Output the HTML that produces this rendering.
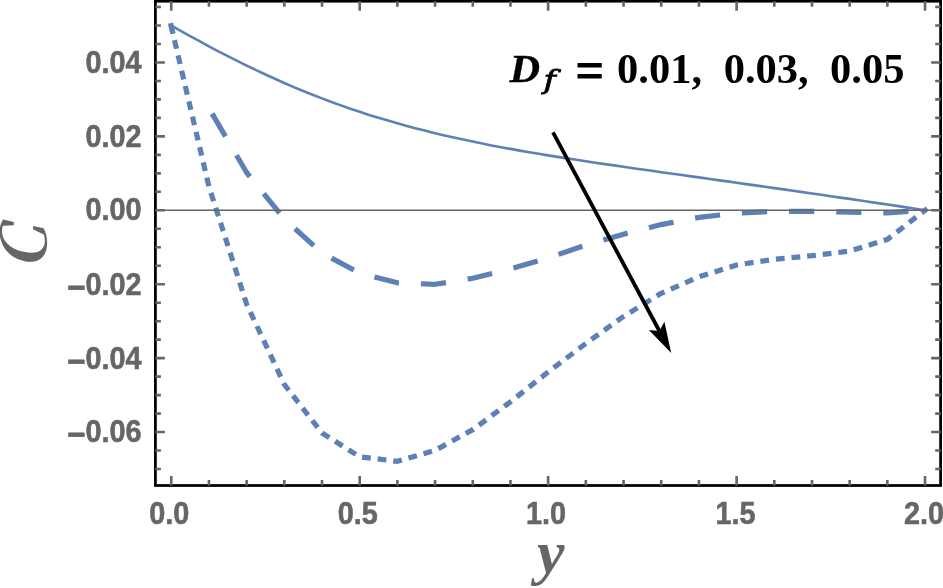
<!DOCTYPE html><html><head><meta charset="utf-8"><title>plot</title><style>html,body{margin:0;padding:0;background:#fff;overflow:hidden}svg{display:block}text{white-space:pre}</style></head><body>
<svg width="943" height="588" viewBox="0 0 943 588">
<rect width="943" height="588" fill="#fff"/>
<polyline points="171.4,25.6 180.7,30.9 190.1,36.1 199.5,41.2 208.9,46.3 218.4,51.3 227.8,56.2 237.2,60.9 246.6,65.6 256.1,70.1 265.5,74.5 274.9,78.8 284.3,83.0 293.7,87.1 303.2,91.0 312.6,94.8 322.0,98.4 331.4,102.0 340.9,105.4 350.3,108.7 359.7,111.8 369.1,114.9 378.5,117.8 388.0,120.6 397.4,123.3 406.8,125.9 416.2,128.4 425.7,130.8 435.1,133.2 444.5,135.4 453.9,137.5 463.3,139.6 472.8,141.6 482.2,143.5 491.6,145.4 501.0,147.2 510.5,148.9 519.9,150.6 529.3,152.2 538.7,153.8 548.1,155.4 557.6,156.9 567.0,158.4 576.4,159.8 585.8,161.3 595.3,162.7 604.7,164.1 614.1,165.4 623.5,166.8 633.0,168.2 642.4,169.5 651.8,170.8 661.2,172.2 670.6,173.5 680.1,174.8 689.5,176.1 698.9,177.4 708.3,178.8 717.8,180.1 727.2,181.4 736.6,182.7 746.0,184.1 755.4,185.4 764.9,186.7 774.3,188.1 783.7,189.4 793.1,190.8 802.6,192.1 812.0,193.5 821.4,194.8 830.8,196.2 840.2,197.6 849.7,198.9 859.1,200.3 868.5,201.7 877.9,203.1 887.4,204.5 896.8,205.9 906.2,207.4 915.6,208.8 925.0,210.3" fill="none" stroke="#5E81B5" stroke-width="2.6" stroke-linejoin="round"/>
<polyline points="212.7,114.6 246.6,172.5 284.3,219.0 322.0,253.0 359.7,273.2 397.4,282.8 435.1,284.3 472.8,278.3 510.5,268.9 548.1,258.0 585.8,245.0 623.5,234.2 661.2,224.6 698.9,217.4 736.6,213.2 774.3,211.4 812.0,211.3 849.7,212.2 887.4,212.9 925.0,210.3" fill="none" stroke="#5E81B5" stroke-width="5.2" stroke-dasharray="25.2 21.95" stroke-linejoin="round"/>
<polyline points="171.1,25.7 208.9,186.5 246.6,304.0 284.3,384.5 322.0,433.0 359.7,456.8 397.4,461.3 435.1,450.4 472.8,429.6 510.5,401.8 548.1,372.0 585.8,343.5 623.5,316.5 661.2,293.3 698.9,276.8 736.6,265.0 774.3,259.3 812.0,255.7 849.7,251.1 887.4,239.4 925.0,210.3" fill="none" stroke="#5E81B5" stroke-width="5.2" stroke-dasharray="8.8 6.9" stroke-dashoffset="0.85" stroke-linejoin="round"/>
<line x1="170.49" y1="23.07" x2="172.98" y2="33.78" stroke="#5E81B5" stroke-width="5.2"/>
<line x1="924.0" y1="211.06" x2="927.3" y2="208.55" stroke="#5E81B5" stroke-width="5.2"/>
<line x1="212.1" y1="113.6" x2="213.7" y2="116.3" stroke="#5E81B5" stroke-width="5.2"/>
<line x1="155.4" y1="210.3" x2="940.7" y2="210.3" stroke="#666666" stroke-width="1.4"/>
<rect x="155.4" y="1.2" width="785.2" height="484.3" fill="none" stroke="#000" stroke-width="2.75"/>
<path d="M171.25 485.5V476.0M171.25 1.2V10.7M208.94 485.5V479.9M208.94 1.2V6.8M246.63 485.5V479.9M246.63 1.2V6.8M284.32 485.5V479.9M284.32 1.2V6.8M322.01 485.5V479.9M322.01 1.2V6.8M359.70 485.5V476.0M359.70 1.2V10.7M397.39 485.5V479.9M397.39 1.2V6.8M435.08 485.5V479.9M435.08 1.2V6.8M472.77 485.5V479.9M472.77 1.2V6.8M510.46 485.5V479.9M510.46 1.2V6.8M548.15 485.5V476.0M548.15 1.2V10.7M585.84 485.5V479.9M585.84 1.2V6.8M623.53 485.5V479.9M623.53 1.2V6.8M661.22 485.5V479.9M661.22 1.2V6.8M698.91 485.5V479.9M698.91 1.2V6.8M736.60 485.5V476.0M736.60 1.2V10.7M774.29 485.5V479.9M774.29 1.2V6.8M811.98 485.5V479.9M811.98 1.2V6.8M849.67 485.5V479.9M849.67 1.2V6.8M887.36 485.5V479.9M887.36 1.2V6.8M925.05 485.5V476.0M925.05 1.2V10.7M155.4 469.02H160.9M940.7 469.02H935.2M155.4 450.54H160.9M940.7 450.54H935.2M155.4 432.06H164.9M940.7 432.06H931.2M155.4 413.58H160.9M940.7 413.58H935.2M155.4 395.10H160.9M940.7 395.10H935.2M155.4 376.62H160.9M940.7 376.62H935.2M155.4 358.14H164.9M940.7 358.14H931.2M155.4 339.66H160.9M940.7 339.66H935.2M155.4 321.18H160.9M940.7 321.18H935.2M155.4 302.70H160.9M940.7 302.70H935.2M155.4 284.22H164.9M940.7 284.22H931.2M155.4 265.74H160.9M940.7 265.74H935.2M155.4 247.26H160.9M940.7 247.26H935.2M155.4 228.78H160.9M940.7 228.78H935.2M155.4 210.30H164.9M940.7 210.30H931.2M155.4 191.82H160.9M940.7 191.82H935.2M155.4 173.34H160.9M940.7 173.34H935.2M155.4 154.86H160.9M940.7 154.86H935.2M155.4 136.38H164.9M940.7 136.38H931.2M155.4 117.90H160.9M940.7 117.90H935.2M155.4 99.42H160.9M940.7 99.42H935.2M155.4 80.94H160.9M940.7 80.94H935.2M155.4 62.46H164.9M940.7 62.46H931.2M155.4 43.98H160.9M940.7 43.98H935.2M155.4 25.50H160.9M940.7 25.50H935.2M155.4 7.02H160.9M940.7 7.02H935.2" stroke="#666666" stroke-width="2.6" fill="none"/>
<line x1="553.0" y1="132.3" x2="659.4" y2="331.0" stroke="#000" stroke-width="3.8"/>
<polygon points="671.2,353.0 648.9,330.0 659.4,331.0 664.4,321.7" fill="#000"/>
<text transform="translate(141.6 72.9) scale(0.915 1)" font-family="Liberation Sans, Arial, Helvetica, sans-serif" font-weight="bold" font-size="31.5" fill="#666666" stroke="#666666" stroke-width="0.6" stroke-linejoin="round" text-anchor="end">0.04</text>
<text transform="translate(141.6 146.9) scale(0.915 1)" font-family="Liberation Sans, Arial, Helvetica, sans-serif" font-weight="bold" font-size="31.5" fill="#666666" stroke="#666666" stroke-width="0.6" stroke-linejoin="round" text-anchor="end">0.02</text>
<text transform="translate(141.6 219.9) scale(0.915 1)" font-family="Liberation Sans, Arial, Helvetica, sans-serif" font-weight="bold" font-size="31.5" fill="#666666" stroke="#666666" stroke-width="0.6" stroke-linejoin="round" text-anchor="end">0.00</text>
<text transform="translate(141.6 294.9) scale(0.915 1)" font-family="Liberation Sans, Arial, Helvetica, sans-serif" font-weight="bold" font-size="31.5" fill="#666666" stroke="#666666" stroke-width="0.6" stroke-linejoin="round" text-anchor="end"><tspan font-size="34.4" dy="3.7">−</tspan><tspan dy="-3.7">0.02</tspan></text>
<text transform="translate(141.6 369.0) scale(0.915 1)" font-family="Liberation Sans, Arial, Helvetica, sans-serif" font-weight="bold" font-size="31.5" fill="#666666" stroke="#666666" stroke-width="0.6" stroke-linejoin="round" text-anchor="end"><tspan font-size="34.4" dy="3.7">−</tspan><tspan dy="-3.7">0.04</tspan></text>
<text transform="translate(141.6 442.0) scale(0.915 1)" font-family="Liberation Sans, Arial, Helvetica, sans-serif" font-weight="bold" font-size="31.5" fill="#666666" stroke="#666666" stroke-width="0.6" stroke-linejoin="round" text-anchor="end"><tspan font-size="34.4" dy="3.7">−</tspan><tspan dy="-3.7">0.06</tspan></text>
<text transform="translate(169.2 524.0) scale(0.915 1)" font-family="Liberation Sans, Arial, Helvetica, sans-serif" font-weight="bold" font-size="31.5" fill="#666666" stroke="#666666" stroke-width="0.6" stroke-linejoin="round" text-anchor="middle">0.0</text>
<text transform="translate(357.7 524.0) scale(0.915 1)" font-family="Liberation Sans, Arial, Helvetica, sans-serif" font-weight="bold" font-size="31.5" fill="#666666" stroke="#666666" stroke-width="0.6" stroke-linejoin="round" text-anchor="middle">0.5</text>
<text transform="translate(546.1 524.0) scale(0.915 1)" font-family="Liberation Sans, Arial, Helvetica, sans-serif" font-weight="bold" font-size="31.5" fill="#666666" stroke="#666666" stroke-width="0.6" stroke-linejoin="round" text-anchor="middle">1.0</text>
<text transform="translate(735.6 524.0) scale(0.915 1)" font-family="Liberation Sans, Arial, Helvetica, sans-serif" font-weight="bold" font-size="31.5" fill="#666666" stroke="#666666" stroke-width="0.6" stroke-linejoin="round" text-anchor="middle">1.5</text>
<text transform="translate(924.0 524.0) scale(0.915 1)" font-family="Liberation Sans, Arial, Helvetica, sans-serif" font-weight="bold" font-size="31.5" fill="#666666" stroke="#666666" stroke-width="0.6" stroke-linejoin="round" text-anchor="middle">2.0</text>
<text transform="translate(46 269) rotate(-90) skewX(-13)" font-family="Noto Serif CJK SC, Liberation Serif, serif" font-weight="bold" font-size="61" fill="#666666">C</text>
<text x="537" y="572.5" font-family="Liberation Serif, Times New Roman, Times, serif" font-weight="bold" font-style="italic" font-size="62" fill="#666666">y</text>
<text transform="translate(509.6 81.9) scale(1.06 0.98)" font-family="Liberation Serif, Times New Roman, Times, serif" font-weight="bold" font-style="italic" font-size="40" fill="#000" stroke="#000" stroke-width="0.3">D</text>
<text transform="translate(543.5 89.2) scale(1.2 0.96)" font-family="DejaVu Serif, Liberation Serif, serif" font-style="italic" font-size="28" fill="#000" stroke="#000" stroke-width="0.8">f</text>
<text transform="translate(575.5 85.4) scale(1.21 1)" font-family="Liberation Sans, Arial, sans-serif" font-weight="bold" font-size="40" fill="#000">=</text>
<text transform="translate(617.0 82.6) scale(1 1.0)" font-family="Liberation Serif, Times New Roman, Times, serif" font-weight="bold" font-size="42.5" fill="#000">0.01,</text>
<text transform="translate(723.7 82.6) scale(1 1.0)" font-family="Liberation Serif, Times New Roman, Times, serif" font-weight="bold" font-size="42.5" fill="#000">0.03,</text>
<text transform="translate(830.0 82.6) scale(1 1.0)" font-family="Liberation Serif, Times New Roman, Times, serif" font-weight="bold" font-size="42.5" fill="#000">0.05</text>
</svg></body></html>
